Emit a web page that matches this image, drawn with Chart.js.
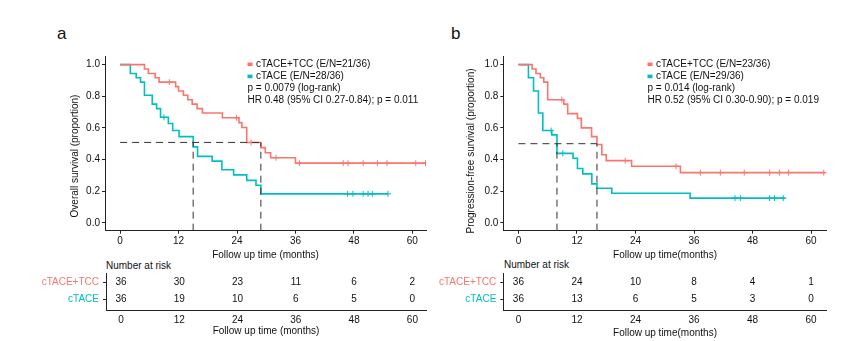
<!DOCTYPE html>
<html>
<head>
<meta charset="utf-8">
<script src="https://cdn.jsdelivr.net/npm/chart.js@4.4.1/dist/chart.umd.min.js"></script>
<style>
  body{margin:0;background:#fff;width:860px;height:341px;overflow:hidden;position:relative;font-family:"Liberation Sans",Arial,sans-serif;color:#111}
  canvas{position:absolute}
  .tag{position:absolute;font-size:17px;line-height:20px}
  .nar{position:absolute;font-size:10px;line-height:12px}
</style>
</head>
<body>
<div class="tag" style="left:57px;top:24px">a</div>
<div class="tag" style="left:451px;top:24px">b</div>
<div class="nar" style="left:106px;top:259.5px">Number at risk</div>
<div class="nar" style="left:504px;top:259px">Number at risk</div>
<canvas id="kmA" width="440" height="262" style="left:0;top:0"></canvas>
<canvas id="riskA" width="440" height="79" style="left:0;top:262px"></canvas>
<canvas id="kmB" width="430" height="262" style="left:430px;top:0"></canvas>
<canvas id="riskB" width="430" height="79" style="left:430px;top:262px"></canvas>
<script>
const RED='#F8766D', TEAL='#00BFC4';
const groups=['cTACE+TCC','cTACE'];
const timeTicks=[0,12,24,36,48,60];
const survTicks=[0,0.2,0.4,0.6,0.8,1.0];

// a: overall survival
const osTccTime=[0,5.0,5.8,7.2,8.0,11.4,12.0,13.0,13.9,14.8,15.8,16.9,21.0,24.4,25.0,26.0,28.9,29.8,30.9,36.0];
const osTccSurv=[1,0.972,0.944,0.917,0.889,0.861,0.833,0.806,0.778,0.750,0.722,0.694,0.664,0.633,0.602,0.508,0.475,0.443,0.411,0.377];
const osTccEnd=62.8;
const osTccCens=[10.1,23.9,26.9,32.0,36.8,45.8,46.8,49.9,52.8,54.8,60.7,62.7];
const osCtTime=[0,2.1,3.3,4.2,5.0,6.6,7.5,8.3,9.9,10.8,12.1,15.0,15.9,18.9,20.9,23.3,26.0,27.9,28.9];
const osCtSurv=[1,0.944,0.917,0.889,0.806,0.750,0.722,0.667,0.628,0.583,0.545,0.480,0.420,0.390,0.335,0.303,0.268,0.237,0.183];
const osCtEnd=55.0;
const osCtCens=[9.0,46.7,47.8,49.9,50.9,51.8,55.0];
const osMedians=[15.0,28.9];
const osMedLevel=0.508;
const osEN=['21/36','28/36'];
const osStats=['p = 0.0079 (log-rank)','HR 0.48 (95% CI 0.27-0.84); p = 0.011'];
const osRiskTcc=[36,30,23,11,6,2];
const osRiskCt=[36,19,10,6,5,0];

// b: progression-free survival
const pfsTccTime=[0,2.8,3.6,4.5,5.2,6.0,9.3,10.1,12.1,12.9,15.0,16.1,17.1,18.0,23.2,33.2];
const pfsTccSurv=[1,0.972,0.944,0.917,0.889,0.778,0.750,0.690,0.660,0.600,0.545,0.495,0.430,0.393,0.357,0.317];
const pfsTccEnd=62.9;
const pfsTccCens=[8.9,21.9,32.3,37.3,41.4,46.3,51.5,53.5,55.4,62.6];
const pfsCtTime=[0,2.05,3.1,4.1,5.0,6.85,7.9,11.2,12.1,13.2,15.05,16.1,19.15,35.2];
const pfsCtSurv=[1,0.917,0.833,0.694,0.583,0.556,0.439,0.408,0.343,0.309,0.246,0.218,0.187,0.156];
const pfsCtEnd=54.7;
const pfsCtCens=[6.7,9.1,44.4,45.5,51.5,52.5,54.3];
const pfsMedians=[7.9,16.1];
const pfsMedLevel=0.5;
const pfsEN=['23/36','29/36'];
const pfsStats=['p = 0.014 (log-rank)','HR 0.52 (95% CI 0.30-0.90); p = 0.019'];
const pfsRiskTcc=[36,24,10,8,4,1];
const pfsRiskCt=[36,13,6,5,3,0];

Chart.defaults.font.family='"Liberation Sans", Arial, sans-serif';
Chart.defaults.font.size=10;
Chart.defaults.color='#111';

const Y_MIN=-0.05, Y_MAX=1.05, X_MIN=-3.1;

function steps(t,s,end){
  const d=t.map((v,i)=>({x:v,y:s[i]}));
  d.push({x:end,y:s[s.length-1]});
  return d;
}
function survAt(t,s,x){
  let v=s[0];
  t.forEach((tt,i)=>{ if(tt<=x) v=s[i]; });
  return v;
}
function cens(t,s,c){ return c.map(x=>({x,y:survAt(t,s,x)})); }

function axisX(max,title,titlePad,height,tickLen,pad){
  return {type:'linear',min:X_MIN,max,
    afterBuildTicks:s=>{ s.ticks=timeTicks.map(v=>({value:v})); },
    grid:{drawOnChartArea:false,drawTicks:tickLen>0,tickLength:tickLen,color:'#222'},
    border:{display:true,color:'#222',width:1},
    ticks:{padding:pad,maxRotation:0,autoSkip:false,color:'#111'},
    title:{display:true,text:title,color:'#111',padding:{top:0,bottom:titlePad}},
    afterFit:s=>{ s.height=height; }};
}

// axis title + legend/stats text inside the plot
const kmDecor={
  id:'kmDecor',
  afterDraw(chart,args,o){
    const ctx=chart.ctx;
    ctx.save();
    ctx.font='10px "Liberation Sans", Arial, sans-serif';
    ctx.fillStyle='#111';
    ctx.save();
    ctx.translate(o.yTitleX,o.yTitleY);
    ctx.rotate(-Math.PI/2);
    ctx.textAlign='center'; ctx.textBaseline='middle';
    ctx.fillText(o.yTitle,0,0);
    ctx.restore();
    o.lines.forEach((ln,i)=>{
      const y=o.legY+i*o.legStep;
      if(ln.color){ ctx.fillStyle=ln.color; ctx.fillRect(o.legX-2.5,y-1.8,5,3.6); }
      ctx.fillStyle='#111'; ctx.textAlign='left'; ctx.textBaseline='middle';
      ctx.fillText(ln.text,o.legX+(ln.color?6:-2.5),y);
    });
    ctx.restore();
  }
};

const riskText={
  id:'riskText',
  afterDatasetsDraw(chart){
    const ctx=chart.ctx;
    ctx.save();
    ctx.font='10px "Liberation Sans", Arial, sans-serif';
    ctx.fillStyle='#111'; ctx.textAlign='center'; ctx.textBaseline='middle';
    chart.data.datasets.forEach((ds,i)=>{
      chart.getDatasetMeta(i).data.forEach((pt,j)=>ctx.fillText(String(ds.counts[j]),pt.x,pt.y));
    });
    ctx.restore();
  }
};

function makeKM(id,c){
  const dash={borderColor:'#333',borderWidth:1,borderDash:[7,5],pointRadius:0,fill:false};
  const curve={borderWidth:1.6,pointRadius:0,stepped:true,fill:false};
  const tick={showLine:false,pointStyle:'cross',pointRadius:3,pointBorderWidth:1};
  new Chart(document.getElementById(id),{
    type:'line',
    data:{datasets:[
      Object.assign({data:[{x:0,y:c.medLevel},{x:c.medians[1],y:c.medLevel}]},dash),
      Object.assign({data:[{x:c.medians[0],y:Y_MIN},{x:c.medians[0],y:c.medLevel}]},dash),
      Object.assign({data:[{x:c.medians[1],y:Y_MIN},{x:c.medians[1],y:c.medLevel}]},dash),
      Object.assign({data:steps(c.tccT,c.tccS,c.tccEnd),borderColor:RED},curve),
      Object.assign({data:steps(c.ctT,c.ctS,c.ctEnd),borderColor:TEAL},curve),
      Object.assign({data:cens(c.tccT,c.tccS,c.tccCens),borderColor:RED,pointBorderColor:RED},tick),
      Object.assign({data:cens(c.ctT,c.ctS,c.ctCens),borderColor:TEAL,pointBorderColor:TEAL},tick)
    ]},
    options:{
      responsive:false,animation:false,devicePixelRatio:1,
      layout:{padding:{left:0,right:c.padRight,top:56.7,bottom:0}},
      plugins:{legend:{display:false},tooltip:{enabled:false},
        kmDecor:{yTitle:c.yTitle,yTitleX:c.yTitleX,yTitleY:c.yTitleY,legX:c.legX,legY:64.3,legStep:12.1,
          lines:[{color:RED,text:groups[0]+' (E/N='+c.en[0]+')'},{color:TEAL,text:groups[1]+' (E/N='+c.en[1]+')'},
                 {text:c.stats[0]},{text:c.stats[1]}]}},
      scales:{
        x:axisX(c.xMax,c.xTitle,c.xTitlePad,31.3,3,2),
        y:{type:'linear',min:Y_MIN,max:Y_MAX,
          afterBuildTicks:s=>{ s.ticks=survTicks.map(v=>({value:v})); },
          grid:{drawOnChartArea:false,tickLength:3,color:'#222'},
          border:{display:true,color:'#222',width:1},
          ticks:{padding:2,color:'#111',callback:v=>Number(v).toFixed(1)},
          afterFit:s=>{ s.width=c.yWidth; }}
      }
    },
    plugins:[kmDecor]
  });
}

function makeRisk(id,c){
  new Chart(document.getElementById(id),{
    type:'scatter',
    data:{datasets:[
      {data:timeTicks.map(t=>({x:t,y:2})),counts:c.tcc,pointRadius:0},
      {data:timeTicks.map(t=>({x:t,y:1})),counts:c.ct,pointRadius:0}
    ]},
    options:{
      responsive:false,animation:false,devicePixelRatio:1,
      layout:{padding:{left:0,right:c.padRight,top:11,bottom:0}},
      plugins:{legend:{display:false},tooltip:{enabled:false}},
      scales:{
        x:axisX(c.xMax,c.xTitle,c.xTitlePad,31,0,4),
        y:{type:'linear',min:0.34,max:2.56,
          afterBuildTicks:s=>{ s.ticks=[{value:1},{value:2}]; },
          grid:{drawOnChartArea:false,tickLength:3,color:'#222'},
          border:{display:true,color:'#222',width:1},
          ticks:{padding:4,callback:v=>groups[2-v],color:ctx=>ctx.tick&&ctx.tick.value===2?RED:TEAL},
          afterFit:s=>{ s.width=c.yWidth; }}
      }
    },
    plugins:[riskText]
  });
}

makeKM('kmA',{tccT:osTccTime,tccS:osTccSurv,tccEnd:osTccEnd,tccCens:osTccCens,
  ctT:osCtTime,ctS:osCtSurv,ctEnd:osCtEnd,ctCens:osCtCens,
  medians:osMedians,medLevel:osMedLevel,en:osEN,stats:osStats,
  xMax:62.8,padRight:14,yWidth:105,xTitle:'Follow up time (months)',xTitlePad:1,
  yTitle:'Overall survival (proportion)',yTitleX:75,yTitleY:156,legX:250});
makeRisk('riskA',{tcc:osRiskTcc,ct:osRiskCt,xMax:62.8,padRight:14,yWidth:106,
  xTitle:'Follow up time (months)',xTitlePad:4});

makeKM('kmB',{tccT:pfsTccTime,tccS:pfsTccSurv,tccEnd:pfsTccEnd,tccCens:pfsTccCens,
  ctT:pfsCtTime,ctS:pfsCtSurv,ctEnd:pfsCtEnd,ctCens:pfsCtCens,
  medians:pfsMedians,medLevel:pfsMedLevel,en:pfsEN,stats:pfsStats,
  xMax:63.2,padRight:33.3,yWidth:73.3,xTitle:'Follow up time(months)',xTitlePad:0.3,
  yTitle:'Progression-free survival (proportion)',yTitleX:41.7,yTitleY:151,legX:220});
makeRisk('riskB',{tcc:pfsRiskTcc,ct:pfsRiskCt,xMax:63.2,padRight:33.3,yWidth:73.3,
  xTitle:'Follow up time(months)',xTitlePad:1.7});
</script>
</body>
</html>
